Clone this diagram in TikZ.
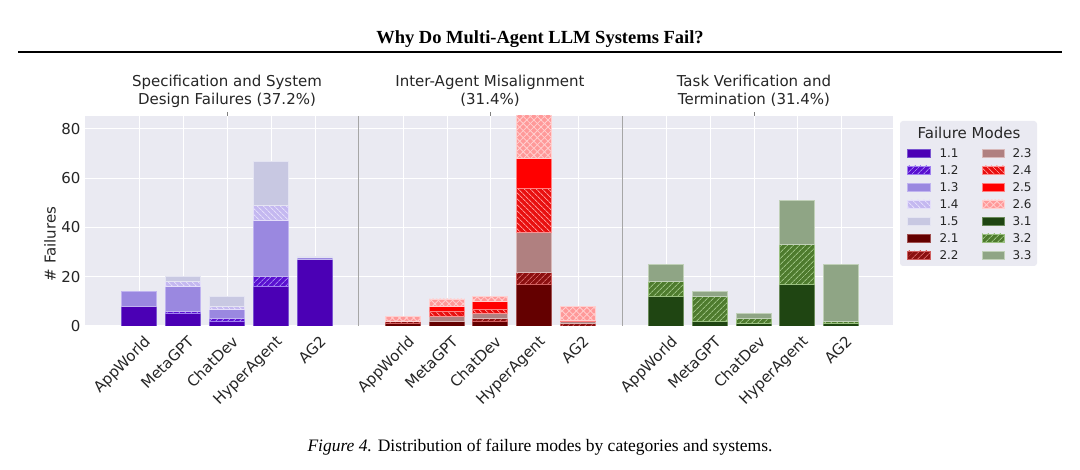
\documentclass[tikz,border=0pt]{standalone}
\usepackage{fontspec}
\setmainfont{Liberation Serif}
\newfontfamily\plotfont{DejaVu Sans}
\usetikzlibrary{patterns.meta}

\definecolor{plotbg}{HTML}{EAEAF2}
\definecolor{txtgray}{HTML}{262626}
\definecolor{c11}{HTML}{4B00B5}\definecolor{h11}{HTML}{7A55D0}
\definecolor{c12}{HTML}{5A10D0}\definecolor{h12}{HTML}{A080F0}
\definecolor{c13}{HTML}{9A88E0}\definecolor{h13}{HTML}{C0B4F0}
\definecolor{c14}{HTML}{C4B8F0}\definecolor{h14}{HTML}{E4DEFA}
\definecolor{c15}{HTML}{C8C8E2}\definecolor{h15}{HTML}{E4E4F2}
\definecolor{c21}{HTML}{640000}\definecolor{h21}{HTML}{A05050}
\definecolor{c22}{HTML}{8B1010}\definecolor{h22}{HTML}{D06060}
\definecolor{c23}{HTML}{B08080}\definecolor{h23}{HTML}{D8B8B8}
\definecolor{c24}{HTML}{E81010}\definecolor{h24}{HTML}{FF9090}
\definecolor{c25}{HTML}{FF0000}\definecolor{h25}{HTML}{FF8080}
\definecolor{c26}{HTML}{FF9999}\definecolor{h26}{HTML}{FFD0D0}
\definecolor{c31}{HTML}{1F4512}\definecolor{h31}{HTML}{6A8A5A}
\definecolor{c32}{HTML}{4E7B2E}\definecolor{h32}{HTML}{9AC080}
\definecolor{c33}{HTML}{8FA585}\definecolor{h33}{HTML}{C0D0B8}

\tikzset{
  seg/.style={line width=0.5pt},
  hatch/.style={postaction={pattern={Lines[angle=45,distance=4pt,line width=1pt]},pattern color=#1}},
  bhatch/.style={postaction={pattern={Lines[angle=-45,distance=4pt,line width=1pt]},pattern color=#1}},
  xhatch/.style={postaction={pattern={Lines[angle=45,distance=5pt,line width=0.8pt]},pattern color=#1},
                 postaction={pattern={Lines[angle=-45,distance=5pt,line width=0.8pt]},pattern color=#1}},
  m11/.style={seg,fill=c11,draw=h11},
  m12/.style={seg,fill=c12,draw=h12,hatch=h12},
  m13/.style={seg,fill=c13,draw=h13},
  m14/.style={seg,fill=c14,draw=h14,bhatch=h14},
  m15/.style={seg,fill=c15,draw=h15},
  m21/.style={seg,fill=c21,draw=h21},
  m22/.style={seg,fill=c22,draw=h22,hatch=h22},
  m23/.style={seg,fill=c23,draw=h23},
  m24/.style={seg,fill=c24,draw=h24,bhatch=h24},
  m25/.style={seg,fill=c25,draw=h25},
  m26/.style={seg,fill=c26,draw=h26,xhatch=h26},
  m31/.style={seg,fill=c31,draw=h31},
  m32/.style={seg,fill=c32,draw=h32,hatch=h32},
  m33/.style={seg,fill=c33,draw=h33},
  ptitle/.style={font=\plotfont\fontsize{15}{18}\selectfont,text=txtgray,align=center},
  ticklab/.style={font=\plotfont\fontsize{15}{18}\selectfont,text=txtgray},
  leglab/.style={font=\plotfont\fontsize{12}{14}\selectfont,text=txtgray,anchor=west},
}

% stacked bar: centre x, list of style/value
\newcommand\barstack[2]{%
  \gdef\cumval{0}%
  \foreach \st/\v in {#2}{%
    \pgfmathsetmacro\segtop{\cumval+\v}%
    \path[\st] (#1-17.5,{144+2.4625*\cumval}) rectangle (#1+17.5,{144+2.4625*\segtop});
    \xdef\cumval{\segtop}%
  }}

\begin{document}
\begin{tikzpicture}[x=1pt,y=1pt]
  \useasboundingbox[fill=white] (0,0) rectangle (1080,470);

  % Heading and caption
  \node (head) at (540,431) {\fontsize{18.5}{22}\selectfont\bfseries Why Do Multi-Agent LLM Systems Fail?};
  \draw[line width=1.5pt] (18,418) -- (1062,418);
  \node (cap) at (540,23) {\fontsize{17.5}{21}\selectfont\textit{Figure 4.} Distribution of failure modes by categories and systems.};

  % Plot area
  \fill[plotbg] (85,144) rectangle (893,354);
  \foreach \v in {0,20,...,80}{
    \draw[white,line width=1pt] (85,{144+2.4625*\v}) -- (893,{144+2.4625*\v});
    \node[ticklab,anchor=east] (tick\v) at (84,{144+2.4625*\v}) {\v};
  }
  \foreach \px in {139,183,227,271,315,403,447,490,534,578,666,710,754,797,841}
    \draw[white,line width=1pt] (\px,144) -- (\px,354);
  \draw[gray!70,line width=0.8pt] (358,144) -- (358,354);
  \draw[gray!70,line width=0.8pt] (622,144) -- (622,354);
  \foreach \px in {227,490,754}
    \draw[gray] (\px,354) -- (\px,358);
  \node[ticklab,rotate=90] (ylab) at (50,226) {\# Failures};

  % Bars
  \begin{scope}
    \clip (85,144) rectangle (893,354);
    \barstack{139}{m11/8,m13/6}
    \barstack{183}{m11/5,m12/1,m13/10,m14/2,m15/2}
    \barstack{227}{m11/2,m12/1,m13/4,m14/1,m15/4}
    \barstack{271}{m11/16,m12/4,m13/23,m14/6,m15/18}
    \barstack{315}{m11/27,m13/1,m15/0.5}
    \barstack{403}{m21/1,m22/1,m26/2}
    \barstack{447}{m21/2,m23/2,m24/2,m25/2,m26/3}
    \barstack{490}{m21/2,m22/1,m23/2,m24/2,m25/3,m26/2}
    \barstack{534}{m21/17,m22/5,m23/16,m24/18,m25/12,m26/20}
    \barstack{578}{m22/1,m23/1,m25/0.5,m26/5.5}
    \barstack{666}{m31/12,m32/6,m33/7}
    \barstack{710}{m31/2,m32/10,m33/2}
    \barstack{754}{m31/1,m32/2,m33/2}
    \barstack{797}{m31/17,m32/16,m33/18}
    \barstack{841}{m31/1,m32/1,m33/23}
  \end{scope}

  % System labels
  \foreach \px/\sys in {139/AppWorld,183/MetaGPT,227/ChatDev,271/HyperAgent,315/AG2,
                        403/AppWorld,447/MetaGPT,490/ChatDev,534/HyperAgent,578/AG2,
                        666/AppWorld,710/MetaGPT,754/ChatDev,797/HyperAgent,841/AG2}
    \node[ticklab,rotate=45,anchor=north east,inner sep=1pt] (sys\px) at (\px+4,137) {\sys};

  % Panel titles
  \node[ptitle] (p1) at (227,379) {Specification and System\\Design Failures (37.2\%)};
  \node[ptitle] (p2) at (490,379) {Inter-Agent Misalignment\\(31.4\%)};
  \node[ptitle] (p3) at (754,379) {Task Verification and\\Termination (31.4\%)};

  % Legend
  \fill[plotbg,rounded corners=3pt] (900,204) rectangle (1037,349);
  \node[ptitle] (legtitle) at (969,337) {Failure Modes};
  \foreach \m/\lab/\row in {11/1.1/0,12/1.2/1,13/1.3/2,14/1.4/3,15/1.5/4,21/2.1/5,22/2.2/6}{
    \path[m\m] (907,{317-17*\row-4}) rectangle (930,{317-17*\row+4});
    \node[leglab] (leg\m) at (936,{317-17*\row}) {\lab};
  }
  \foreach \m/\lab/\row in {23/2.3/0,24/2.4/1,25/2.5/2,26/2.6/3,31/3.1/4,32/3.2/5,33/3.3/6}{
    \path[m\m] (982,{317-17*\row-4}) rectangle (1004,{317-17*\row+4});
    \node[leglab] (leg\m) at (1009,{317-17*\row}) {\lab};
  }
\end{tikzpicture}
\end{document}
